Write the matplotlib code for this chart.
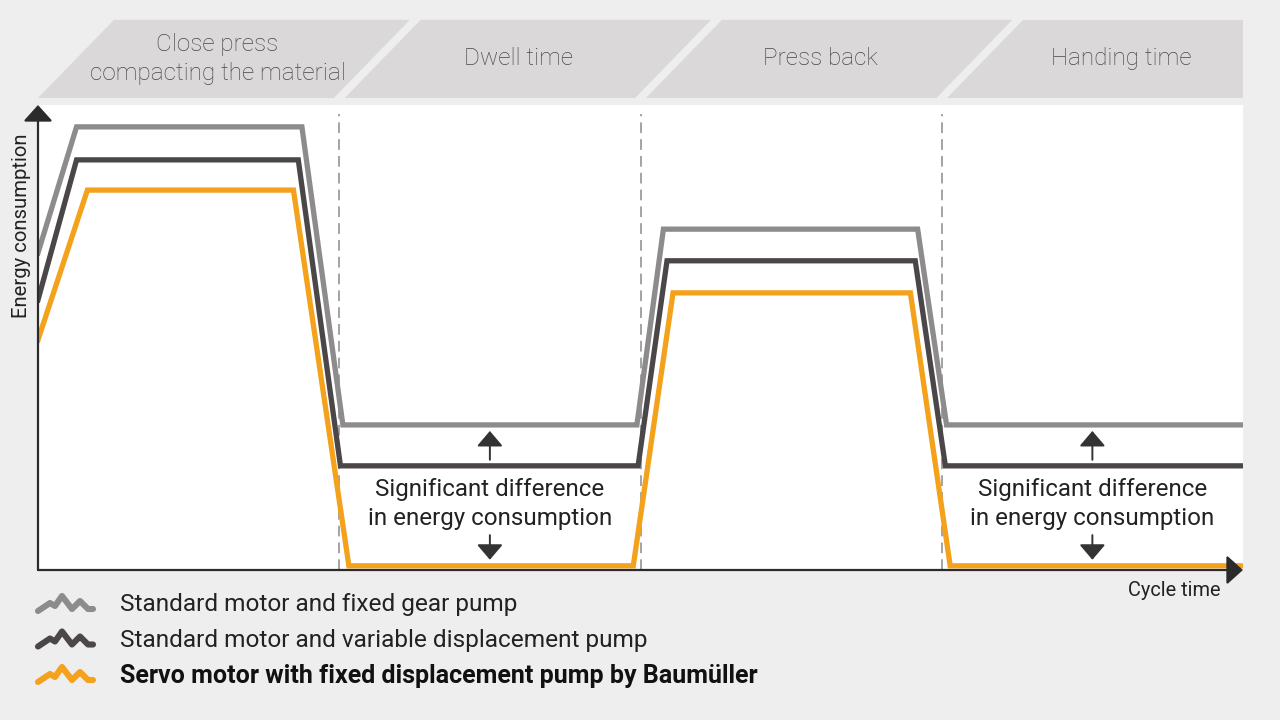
import matplotlib
matplotlib.use('Agg')
import matplotlib.pyplot as plt
from matplotlib.patches import Polygon, FancyArrowPatch

plt.rcParams['font.family'] = ['Roboto', 'DejaVu Sans']

# Cycle data (time and energy in relative units, 0-100)
time_gear = [0, 3.2, 21.9, 25.3, 49.7, 51.9, 73.0, 75.4, 100]
energy_gear = [68.2, 95.3, 95.3, 31.2, 31.2, 73.3, 73.3, 31.2, 31.2]
time_variable = [0, 3.2, 21.6, 25.1, 49.8, 52.2, 72.8, 75.3, 100]
energy_variable = [58.1, 88.2, 88.2, 22.4, 22.4, 66.5, 66.5, 22.4, 22.4]
time_servo = [0, 4.1, 21.2, 25.8, 49.4, 52.7, 72.4, 75.7, 100]
energy_servo = [49.5, 81.7, 81.7, 0.9, 0.9, 59.6, 59.6, 0.9, 0.9]

series_labels = ['Standard motor and fixed gear pump',
                 'Standard motor and variable displacement pump',
                 'Servo motor with fixed displacement pump by Baumüller']
phase_names = ['Close press\ncompacting the material', 'Dwell time',
               'Press back', 'Handing time']
phase_edges = [0, 25, 50, 75, 100]
note_text = 'Significant difference\nin energy consumption'

LIGHT = '#8d8b8c'
DARK = '#4b4647'
ORANGE = '#f4a11b'
BANNER = '#dad8d9'
AXIS = '#2b2b2b'

fig = plt.figure(figsize=(12.8, 7.2), dpi=100, facecolor='#eeeeee')

# background layer in pixel coordinates for the legend
bg = fig.add_axes([0, 0, 1, 1], zorder=-1)
bg.set_xlim(0, 1280)
bg.set_ylim(720, 0)
bg.axis('off')

ax = fig.add_axes([38 / 1280, 150 / 720, 1205 / 1280, 465 / 720])
ax.set_xlim(0, 100)
ax.set_ylim(0, 100)
ax.set_facecolor('white')
for s in ax.spines.values():
    s.set_visible(False)
ax.set_xticks([])
ax.set_yticks([])

# phase separators
ax.vlines(phase_edges[1:-1], 0, 98, colors='#8a8a8a', lw=1.1,
          linestyles=(0, (7, 4)), zorder=1)

# header banners above the plot
slant, gap, b_low, b_high = 6.3, 0.45, 101.5, 118.3
for i, name in enumerate(phase_names):
    left = phase_edges[i] + (gap if i > 0 else 0)
    last = i == len(phase_names) - 1
    right = phase_edges[i + 1] - (0 if last else gap)
    verts = [(left, b_low), (right, b_low),
             (right if last else right + slant, b_high), (left + slant, b_high)]
    ax.add_patch(Polygon(verts, closed=True, facecolor=BANNER,
                         edgecolor='none', clip_on=False))
    xc = (phase_edges[i] + phase_edges[i + 1]) / 2 + 2.4
    ax.text(xc, (b_low + b_high) / 2, name, ha='center', va='center',
            fontsize=17.5, color='#484848', fontweight='light',
            linespacing=1.3, clip_on=False)

# energy curves
for t, e, c in [(time_gear, energy_gear, LIGHT),
                (time_variable, energy_variable, DARK),
                (time_servo, energy_servo, ORANGE)]:
    ax.plot(t, e, color=c, lw=3.8, solid_joinstyle='miter', zorder=3)

# difference notes in dwell and handling phases
for i in (1, 3):
    xc = (phase_edges[i] + phase_edges[i + 1]) / 2
    ax.text(xc, 14.2, note_text, ha='center', va='center', fontsize=17.4,
            color='#222222', linespacing=1.35, zorder=4)
    for y0, y1 in [(23.7, 29.9), (7.5, 2.2)]:
        ax.add_patch(FancyArrowPatch((xc, y0), (xc, y1),
                                     arrowstyle='-|>,head_length=0.47,head_width=0.4',
                                     mutation_scale=20, lw=1.4, color='#333333',
                                     shrinkA=0, shrinkB=0, zorder=4))

# axis arrows
for tip in [(0, 1), (1, 0)]:
    ax.annotate('', xy=tip, xytext=(0, 0), xycoords='axes fraction',
                arrowprops=dict(arrowstyle='-|>,head_length=0.5,head_width=0.45',
                                mutation_scale=20, lw=1.6, color=AXIS,
                                shrinkA=0, shrinkB=0), annotation_clip=False, zorder=5)

fig.text(22 / 1280, 1 - 226 / 720, 'Energy consumption', rotation=90,
         ha='center', va='center', fontsize=14.6, color='#222222')
fig.text(1221 / 1280, 1 - 590 / 720, 'Cycle time', ha='right', va='center',
         fontsize=14.4, color='#222222')

# legend with zigzag icons
zig_dx = [0, 12, 17, 24, 34, 42, 50, 55]
zig_dy = [6, -2, 1, -9, 4, -4, 4, 4]
for k, (lab, c) in enumerate(zip(series_labels, [LIGHT, DARK, ORANGE])):
    yc = 605 + k * 35.5
    bg.plot([38 + d for d in zig_dx], [yc + d for d in zig_dy], color=c, lw=4.4,
            solid_capstyle='round', solid_joinstyle='round')
    bg.text(120, yc, lab, ha='left', va='center',
            fontsize=18 if k == 2 else 17.6,
            color='#111111' if k == 2 else '#222222',
            fontweight='bold' if k == 2 else 'normal')

fig.savefig('out.png', dpi=100, facecolor=fig.get_facecolor())
